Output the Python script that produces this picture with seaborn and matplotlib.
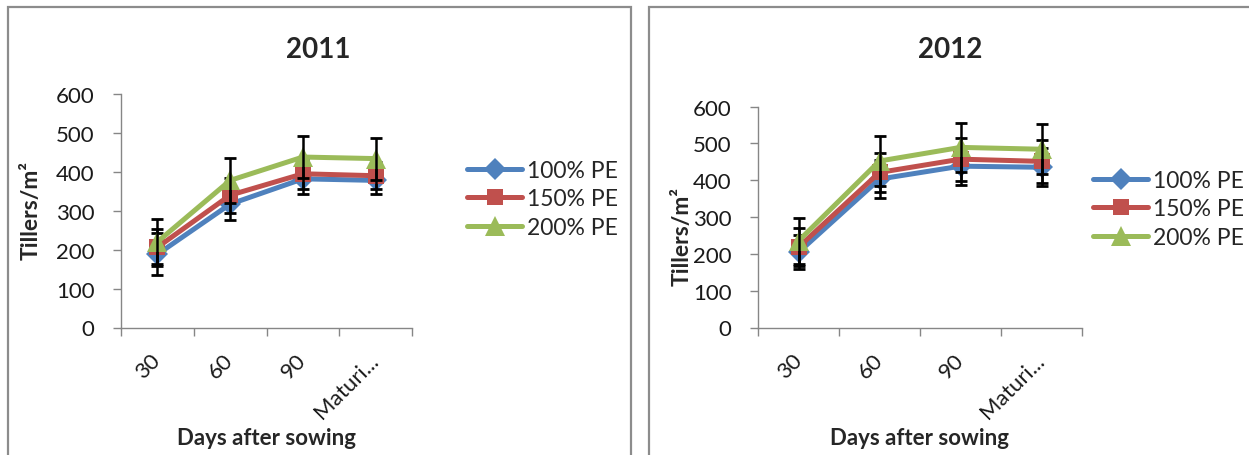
import pandas as pd
import seaborn as sns
import matplotlib.pyplot as plt
import matplotlib.transforms as mtransforms
from matplotlib.patches import Rectangle

stages = ['30', '60', '90', 'Maturi...']
treatments = ['100% PE', '150% PE', '200% PE']
colors = ['#4F81BD', '#C0504D', '#9BBB59']

# 2011 tillers/m2 and error bars
y2011_100 = [188, 317, 382, 378]
y2011_150 = [206, 340, 395, 390]
y2011_200 = [220, 378, 438, 434]
e2011_100 = [54, 41, 39, 35]
e2011_150 = [47, 45, 39, 34]
e2011_200 = [58, 58, 54, 54]

# 2012
y2012_100 = [204, 403, 438, 435]
y2012_150 = [218, 421, 457, 451]
y2012_200 = [235, 452, 489, 484]
e2012_100 = [46, 52, 51, 51]
e2012_150 = [52, 53, 58, 59]
e2012_200 = [62, 67, 66, 68]

sns.set_style("white")
plt.rcParams['font.family'] = ['Lato', 'DejaVu Sans']

fig = plt.figure(figsize=(12.49, 4.56), dpi=100)
W, H = 1249, 456


def px_axes(x0, x1, ytop, ybot):
    return fig.add_axes([x0 / W, 1 - ybot / H, (x1 - x0) / W, (ybot - ytop) / H])


# panel borders
for x0, x1 in [(8, 631), (649, 1300)]:
    fig.add_artist(Rectangle((x0 / W, -0.1), (x1 - x0) / W, 1.1 - 8 / H,
                             transform=fig.transFigure, fill=False,
                             edgecolor='#8c8c8c', linewidth=1.6))

panels = [
    dict(title='2011', tx=318, ys=[y2011_100, y2011_150, y2011_200],
         es=[e2011_100, e2011_150, e2011_200], box=(121, 412, 95, 328.5),
         leg=(467, 200), ylab=(42, 211)),
    dict(title='2012', tx=950, ys=[y2012_100, y2012_150, y2012_200],
         es=[e2012_100, e2012_150, e2012_200], box=(758, 1082, 107.5, 328.5),
         leg=(1093, 210), ylab=(693, 236)),
]

for p in panels:
    x0, x1, yt, yb = p['box']
    ax = px_axes(x0, x1, yt, yb)
    rows = []
    for t, vals in zip(treatments, p['ys']):
        for i, v in enumerate(vals):
            rows.append({'pos': i, 'tillers': v, 'treatment': t})
    df = pd.DataFrame(rows)
    sns.lineplot(data=df, x='pos', y='tillers', hue='treatment', style='treatment',
                 hue_order=treatments, style_order=treatments,
                 markers=['D', 's', '^'], dashes=False, palette=colors,
                 linewidth=3.6, markeredgewidth=0, legend=False, ax=ax)
    series_lines = list(ax.lines[:3])
    for k, (ln, ms) in enumerate(zip(series_lines, [11, 12, 15])):
        ln.set_markersize(ms)
        ln.set_zorder(2 + 2 * k)
        ax.errorbar(range(4), p['ys'][k], yerr=p['es'][k], fmt='none',
                    ecolor='black', elinewidth=1.8, capsize=4.5, capthick=2,
                    zorder=3 + 2 * k)

    ax.set_xlim(-0.5, 3.5)
    ax.set_ylim(0, 600)
    ax.set_yticks(range(0, 601, 100))
    ax.set_xticks([-0.5, 0.5, 1.5, 2.5, 3.5])
    ax.set_xticklabels([])
    ax.set_xticks(range(4), minor=True)
    ax.set_xticklabels(stages, minor=True, rotation=45, ha='right', va='center',
                       rotation_mode='anchor', fontsize=16, color='#1a1a1a')
    offset = mtransforms.ScaledTranslation(9 / 100, 0, fig.dpi_scale_trans)
    for lab in ax.get_xticklabels(minor=True):
        lab.set_transform(lab.get_transform() + offset)
    ax.tick_params(axis='x', which='minor', length=0, pad=21)
    ax.tick_params(axis='x', which='major', length=6, width=1, color='#868686',
                   direction='out', bottom=True)
    ax.tick_params(axis='y', length=6, width=1, color='#868686', direction='out',
                   left=True, labelsize=16, labelcolor='#1a1a1a', pad=13)
    for s in ['top', 'right']:
        ax.spines[s].set_visible(False)
    for s in ['left', 'bottom']:
        ax.spines[s].set_color('#868686')
        ax.spines[s].set_linewidth(1)

    ax.set_xlabel('Days after sowing', fontsize=16, fontweight='bold')
    ax.set_ylabel('Tillers/m²', fontsize=16.5, fontweight='bold')
    ax.xaxis.set_label_coords(0.5, (yb - 428) / (yb - yt))
    ax.yaxis.set_label_coords((p['ylab'][0] - x0) / (x1 - x0),
                              (yb - p['ylab'][1]) / (yb - yt))

    fig.text(p['tx'] / W, 1 - 50 / H, p['title'], ha='center', va='center',
             fontsize=20, fontweight='bold')

    lx, ly = p['leg']
    ax.legend(series_lines, treatments, loc='center left',
              bbox_to_anchor=(lx / W, 1 - ly / H), bbox_transform=fig.transFigure,
              frameon=False, fontsize=16.5, handlelength=2.4, handletextpad=0.2,
              labelspacing=0.32, borderpad=0, borderaxespad=0)

fig.savefig('out.png', dpi=100)
